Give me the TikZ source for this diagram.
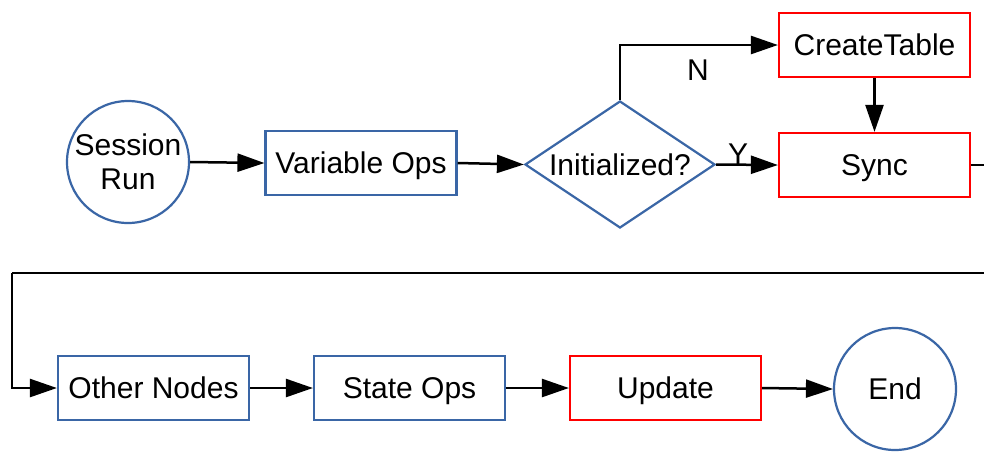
\documentclass[tikz,border=0pt]{standalone}
\usepackage{fontspec}
\setmainfont{Liberation Sans}
\usetikzlibrary{shapes.geometric,arrows.meta}
\definecolor{flowblue}{HTML}{3A66A6}
\definecolor{flowred}{HTML}{FF0000}
\tikzset{
  txt/.style={font=\fontsize{30}{34}\selectfont, align=center},
  oneline/.style={txt, text height=21.5pt, text depth=0pt},
  bluebox/.style={oneline, draw=flowblue, line width=2.2pt, rectangle, minimum width=191pt, minimum height=64pt, inner sep=0pt},
  redbox/.style={oneline, draw=flowred, line width=2.2pt, rectangle, minimum width=191pt, minimum height=64pt, inner sep=0pt},
  roundnode/.style={txt, draw=flowblue, line width=2.2pt, circle, minimum size=122pt, inner sep=0pt},
  decision/.style={draw=flowblue, line width=2.2pt, diamond, minimum width=190pt, minimum height=127pt, inner sep=0pt},
  flow/.style={line width=2.5pt, draw=black, -{Triangle[length=27pt,width=18pt]}},
  plainflow/.style={line width=2.5pt, draw=black},
}
\begin{document}
\begin{tikzpicture}[x=1pt,y=-1pt]
\useasboundingbox (0,0) rectangle (984,451);
\clip (0,0) rectangle (984,451);
\fill[white] (0,0) rectangle (984,451);

% top row
\node[roundnode] (session) at (128,162) {Session\\Run};
\node[bluebox] (varops) at (361,163) {Variable Ops};
\node[decision] (init) at (620,164.5) {};
\node[oneline] (initlabel) at (620,164.5) {Initialized?};
\node[redbox] (create) at (874.5,45) {CreateTable};
\node[redbox] (sync) at (874.5,165) {Sync};

% bottom row
\node[bluebox] (other) at (153.5,388) {Other Nodes};
\node[bluebox] (state) at (409.5,388) {State Ops};
\node[redbox] (update) at (665.5,388) {Update};
\node[roundnode, oneline] (end) at (895,389) {End};

% branch labels
\node[oneline] (nlab) at (698,70) {N};
\node[oneline] (ylab) at (738,154) {Y};

% wrap-around route from Sync to Other Nodes
\coordinate (edgeA) at (995,165);
\coordinate (edgeB) at (995,273);
\coordinate (wrapL) at (12,273);

% connectors
\draw[flow] (session.east) -- (varops.west);
\draw[flow] (varops.east) -- (init.west);
\draw[flow] (init.north) |- (create.west);
\draw[flow] (init.east) -- (sync.west);
\draw[flow] (create.south) -- (sync.north);
\draw[plainflow] (sync.east) -- (edgeA) -- (edgeB) -- (wrapL);
\draw[flow] (wrapL) |- (other.west);
\draw[flow] (other.east) -- (state.west);
\draw[flow] (state.east) -- (update.west);
\draw[flow] (update.east) -- (end.west);
\end{tikzpicture}
\end{document}
